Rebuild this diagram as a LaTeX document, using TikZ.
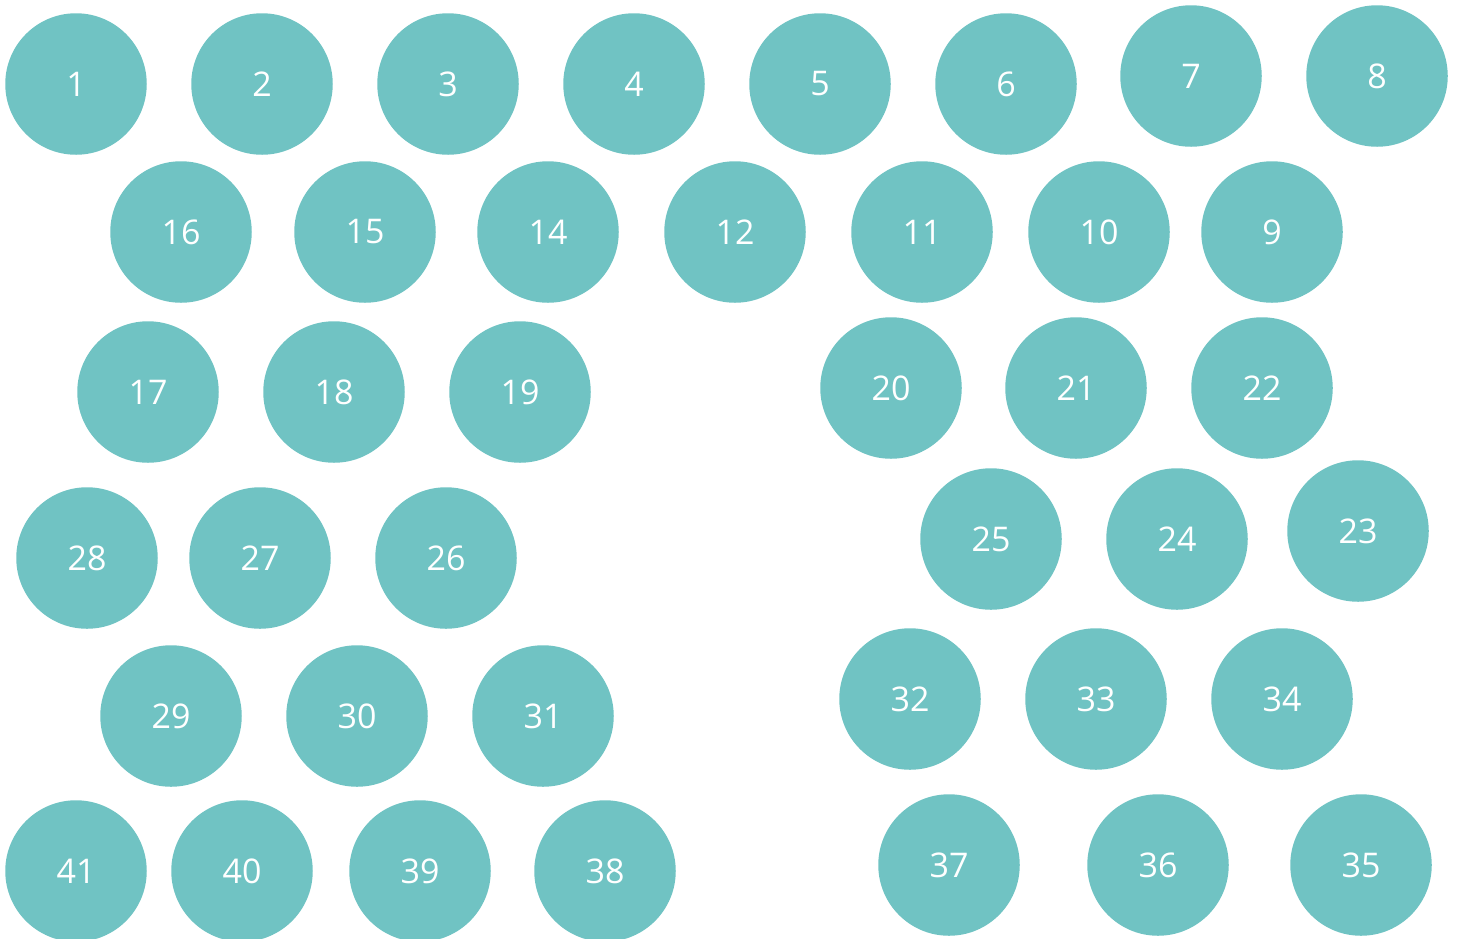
\documentclass[tikz,border=0pt]{standalone}
\usepackage{fontspec}
\setmainfont{Open Sans}
\definecolor{teal1}{HTML}{70C3C3}
\begin{document}
\begin{tikzpicture}[x=1pt,y=-1pt,
  ball/.style={circle,fill=teal1,minimum size=141.5pt,inner sep=0pt,text=white,font=\fontsize{34}{40}\selectfont}]
\useasboundingbox (0,0) rectangle (1458,938);
\foreach \n/\x/\y in {1/76/84,2/262/84,3/448/84,4/634/84,5/820/84,6/1006/84,7/1191/76,8/1377/76,
  16/181/232,15/365/232,14/548/232,12/735/232,11/922/232,10/1099/232,9/1272/232,
  17/148/392,18/334/392,19/520/392,20/891/388,21/1076/388,22/1262/388,
  28/87/558,27/260/558,26/446/558,25/991/539,24/1177/539,23/1358/531,
  29/171/716,30/357/716,31/543/716,32/910/699,33/1096/699,34/1282/699,
  41/76/871,40/242/871,39/420/871,38/605/871,37/949/865,36/1158/865,35/1361/865}
  \node[ball] (n\n) at (\x,\y) {\n};
\end{tikzpicture}
\end{document}
